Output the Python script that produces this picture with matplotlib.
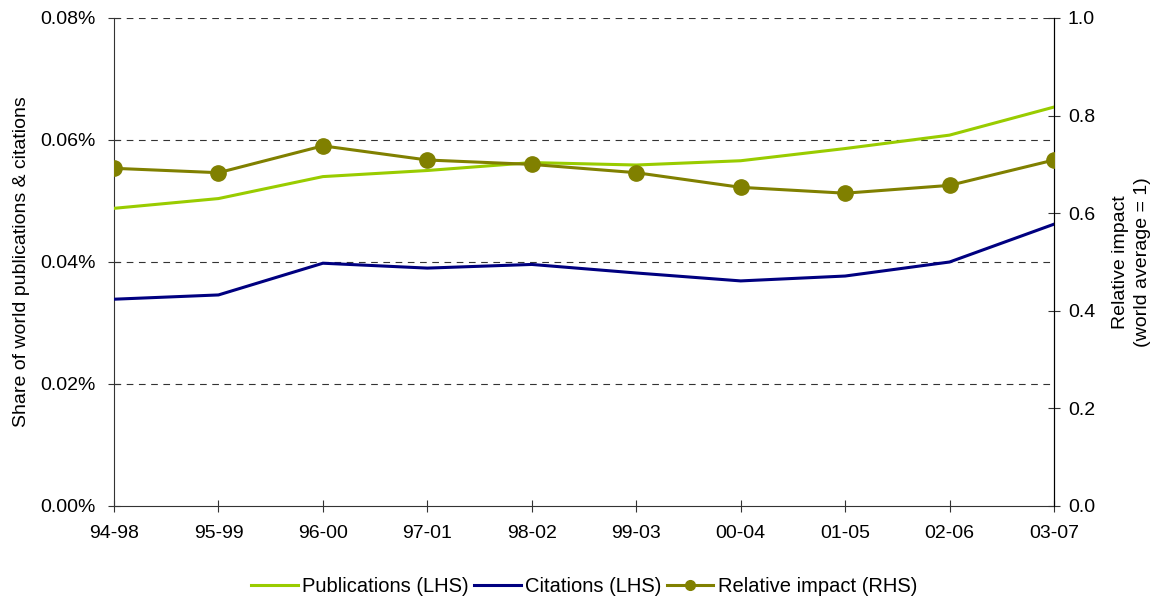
import matplotlib
matplotlib.use("Agg")
import matplotlib.pyplot as plt
from matplotlib.ticker import FuncFormatter, MultipleLocator
from matplotlib.lines import Line2D

plt.rcParams['font.family'] = ['Liberation Sans', 'DejaVu Sans']

periods = ["94-98", "95-99", "96-00", "97-01", "98-02", "99-03", "00-04", "01-05", "02-06", "03-07"]
publications = [0.0488, 0.0504, 0.0540, 0.0550, 0.0563, 0.0559, 0.0566, 0.0586, 0.0608, 0.0654]
citations = [0.0339, 0.0346, 0.0398, 0.0390, 0.0396, 0.0382, 0.0369, 0.0377, 0.0400, 0.0462]
relative_impact = [0.692, 0.683, 0.738, 0.709, 0.700, 0.683, 0.653, 0.641, 0.657, 0.709]

fig = plt.figure(figsize=(11.59, 6.03), dpi=100)
ax = fig.add_axes([114/1159, 1-506/603, (1054-114)/1159, (506-18)/603])
ax2 = ax.twinx()

x = list(range(len(periods)))
pub_col = "#99CC00"
cit_col = "#000080"
imp_col = "#808000"

ax.plot(x, publications, color=pub_col, lw=2.2, zorder=3)
ax.plot(x, citations, color=cit_col, lw=2.2, zorder=3)
ax2.plot(x, relative_impact, color=imp_col, lw=2.2, marker='o', ms=11, zorder=3)

ax.set_xlim(0, 9)
ax.set_ylim(0, 0.08)
ax2.set_ylim(0, 1.0)
ax.yaxis.set_major_locator(MultipleLocator(0.02))
ax.yaxis.set_major_formatter(FuncFormatter(lambda v, p: f"{v:.2f}%"))
ax2.yaxis.set_major_locator(MultipleLocator(0.2))
ax2.yaxis.set_major_formatter(FuncFormatter(lambda v, p: f"{v:.1f}"))
ax.set_xticks(x)
ax.set_xticklabels(periods)

for yv in [0.02, 0.04, 0.06, 0.08]:
    ax.axhline(yv, color="#333333", lw=0.8, ls=(0, (6, 5)), zorder=1)

axis_col = "#333333"
for a in (ax, ax2):
    a.spines['top'].set_visible(False)
    a.tick_params(axis='both', labelsize=14, length=8, direction='inout', width=0.8,
                  colors=axis_col, labelcolor='black')
ax.spines['left'].set_color(axis_col)
ax.spines['bottom'].set_color(axis_col)
ax2.spines['left'].set_visible(False)
ax2.spines['bottom'].set_visible(False)
ax2.spines['right'].set_color('black')
ax.tick_params(axis='x', pad=10)
ax.tick_params(axis='y', pad=9)
ax2.tick_params(axis='y', pad=6)

ax.set_ylabel("Share of world publications & citations", fontsize=14)
ax.yaxis.set_label_coords(-0.089, 0.5)
ax2.set_ylabel("Relative impact\n(world average = 1)", fontsize=14, labelpad=12,
               linespacing=1.4)

handles = [
    Line2D([], [], color=pub_col, lw=2.2),
    Line2D([], [], color=cit_col, lw=2.2),
    Line2D([], [], color=imp_col, lw=2.2, marker='o', ms=7),
]
labels = ["Publications (LHS)", "Citations (LHS)", "Relative impact (RHS)"]
fig.legend(handles, labels, loc='center', bbox_to_anchor=(0.504, 1-587/603), ncol=3,
           frameon=False, fontsize=14.5, handlelength=2.3, handletextpad=0.2, columnspacing=0.3)

fig.savefig("out.png", dpi=100)
